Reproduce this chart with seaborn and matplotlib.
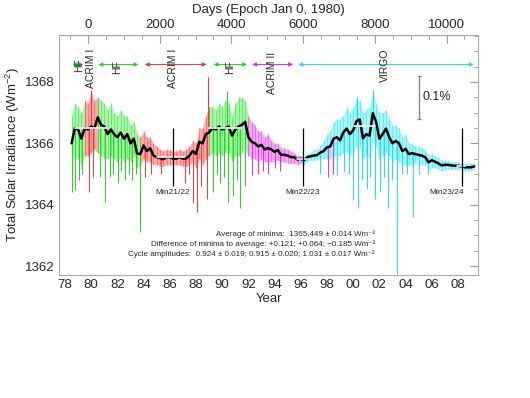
import numpy as np
import pandas as pd
import matplotlib
matplotlib.use('Agg')
import matplotlib.pyplot as plt
from matplotlib.ticker import MultipleLocator
import seaborn as sns

# quarter-year samples
years = np.arange(1978.5, 2009.26, 0.25)

smooth = [1366.0, 1366.5,
          1366.45, 1366.15, 1366.5, 1366.45,
          1366.55, 1366.5, 1366.85, 1366.6,
          1366.55, 1366.3, 1366.45, 1366.3,
          1366.2, 1366.35, 1366.15, 1366.3,
          1366.0, 1366.15, 1365.67, 1365.65,
          1365.93, 1365.75, 1365.84, 1365.6,
          1365.55, 1365.52, 1365.48, 1365.55,
          1365.55, 1365.5, 1365.5, 1365.55,
          1365.5, 1365.5, 1365.6, 1365.75,
          1365.65, 1366.05, 1366.0, 1366.3,
          1366.35, 1366.5, 1366.45, 1366.55,
          1366.45, 1366.5, 1366.55, 1366.25,
          1366.45, 1366.55, 1366.6, 1366.7,
          1366.2, 1366.05, 1366.0, 1365.9,
          1365.95, 1365.8, 1365.85, 1365.8,
          1365.72, 1365.78, 1365.62, 1365.63,
          1365.6, 1365.55, 1365.55, 1365.47,
          1365.5, 1365.45, 1365.55, 1365.58,
          1365.6, 1365.62, 1365.7, 1365.75,
          1365.87, 1365.9, 1366.15, 1366.2,
          1366.1, 1366.36, 1366.48, 1366.3,
          1366.42, 1366.72, 1366.78, 1366.16,
          1366.3, 1366.25, 1366.98, 1366.7,
          1366.15, 1366.3, 1366.48, 1366.2,
          1366.0, 1366.08, 1366.0, 1365.75,
          1365.82, 1365.65, 1365.68, 1365.65,
          1365.62, 1365.6, 1365.55, 1365.38,
          1365.45, 1365.4, 1365.35, 1365.28,
          1365.3, 1365.3, 1365.28, 1365.27,
          1365.27, 1365.25, 1365.22, 1365.22,
          1365.22, 1365.25]

band_hi = [1366.9, 1367.3,
           1367.2, 1367.0, 1367.4, 1367.3,
           1367.7, 1367.4, 1367.5, 1367.4,
           1367.3, 1367.1, 1367.3, 1367.0,
           1366.9, 1367.1, 1366.9, 1366.9,
           1366.6, 1366.7, 1366.3, 1366.2,
           1366.4, 1366.2, 1366.2, 1366.0,
           1365.9, 1365.8, 1365.75, 1365.8,
           1365.8, 1365.75, 1365.75, 1365.8,
           1365.75, 1365.8, 1365.9, 1366.1,
           1366.0, 1366.5, 1366.5, 1366.9,
           1367.2, 1367.2, 1367.1, 1367.3,
           1367.2, 1367.4, 1367.3, 1366.9,
           1367.3, 1367.5, 1367.5, 1367.4,
           1366.9, 1366.7, 1366.6, 1366.4,
           1366.4, 1366.2, 1366.3, 1366.1,
           1366.0, 1366.0, 1365.85, 1365.85,
           1365.8, 1365.75, 1365.7, 1365.6,
           1365.6, 1365.55, 1365.65, 1365.7,
           1365.8, 1365.8, 1365.95, 1366.1,
           1366.3, 1366.4, 1366.7, 1366.8,
           1366.8, 1366.9, 1367.2, 1367.0,
           1367.2, 1367.4, 1367.4, 1367.0,
           1367.1, 1367.2, 1367.7, 1367.3,
           1367.0, 1367.0, 1367.1, 1366.8,
           1366.6, 1366.6, 1366.5, 1366.2,
           1366.3, 1366.0, 1366.0, 1365.9,
           1365.9, 1365.85, 1365.8, 1365.6,
           1365.65, 1365.6, 1365.55, 1365.45,
           1365.45, 1365.45, 1365.4, 1365.4,
           1365.4, 1365.35, 1365.35, 1365.35,
           1365.35, 1365.35]

band_lo = [1365.3, 1365.6,
           1365.5, 1365.3, 1365.6, 1365.6,
           1365.7, 1365.8, 1365.7, 1365.6,
           1365.5, 1365.5, 1365.6, 1365.5,
           1365.4, 1365.6, 1365.4, 1365.5,
           1365.4, 1365.6, 1365.2, 1365.3,
           1365.5, 1365.4, 1365.4, 1365.3,
           1365.3, 1365.25, 1365.25, 1365.3,
           1365.3, 1365.3, 1365.3, 1365.3,
           1365.25, 1365.25, 1365.3, 1365.4,
           1365.2, 1365.5, 1365.3, 1365.5,
           1365.6, 1365.7, 1365.6, 1365.7,
           1365.6, 1365.7, 1365.7, 1365.4,
           1365.6, 1365.6, 1365.7, 1365.8,
           1365.6, 1365.5, 1365.5, 1365.4,
           1365.5, 1365.4, 1365.4, 1365.4,
           1365.4, 1365.45, 1365.4, 1365.4,
           1365.35, 1365.35, 1365.35, 1365.3,
           1365.35, 1365.3, 1365.4, 1365.45,
           1365.45, 1365.45, 1365.5, 1365.5,
           1365.5, 1365.5, 1365.6, 1365.6,
           1365.6, 1365.7, 1365.7, 1365.6,
           1365.7, 1365.9, 1365.9, 1365.5,
           1365.6, 1365.5, 1366.2, 1365.9,
           1365.5, 1365.6, 1365.7, 1365.6,
           1365.4, 1365.5, 1365.4, 1365.3,
           1365.3, 1365.3, 1365.3, 1365.35,
           1365.3, 1365.3, 1365.3, 1365.15,
           1365.2, 1365.2, 1365.15, 1365.1,
           1365.15, 1365.15, 1365.15, 1365.15,
           1365.15, 1365.15, 1365.1, 1365.1,
           1365.1, 1365.15]

# which instrument the composite uses (data colours)
src_names = ['HF', 'ACRIM I', 'HF', 'ACRIM I', 'HF', 'ACRIM II', 'VIRGO']
src_start = [1978.5, 1979.5, 1980.5, 1983.75, 1989.0, 1992.0, 1996.0]
src_end = [1979.5, 1980.5, 1983.75, 1989.0, 1992.0, 1996.0, 2009.25]

# short dips / peaks in the daily data
spike_src = ['HF'] * 15 + ['ACRIM I'] * 11 + ['HF'] * 9 + ['ACRIM II'] * 8 + ['VIRGO'] * 20
spike_year = [1978.53, 1978.76, 1979.07, 1979.3, 1980.7, 1981.05, 1981.4, 1981.7, 1982.05, 1982.3,
              1982.58, 1982.85, 1983.11, 1983.4, 1983.73,
              1979.83, 1980.1, 1984.11, 1984.6, 1985.3, 1987.16, 1987.5, 1987.77, 1988.08, 1988.4, 1988.84,
              1989.3, 1989.6, 1989.83, 1990.1, 1990.44, 1990.82, 1991.1, 1991.36, 1991.74,
              1992.27, 1992.73, 1993.1, 1993.5, 1994.0, 1994.41, 1998.08, 1998.46,
              1997.47, 1998.76, 1999.3, 1999.7, 1999.98, 2000.37, 2000.7, 2001.05, 2001.3, 2001.66,
              2002.05, 2002.35, 2002.66, 2003.0, 2003.34, 2003.7, 2004.1, 2004.56, 2005.0, 2005.7]
spike_low = [1364.4, 1364.47, 1364.8, 1365.0, 1364.9, 1364.1, 1364.9, 1365.0, 1364.7, 1365.1,
             1364.8, 1365.0, 1364.8, 1365.0, 1363.1,
             1364.4, 1364.9, 1364.9, 1365.0, 1365.0, 1364.7, 1365.0, 1364.05, 1363.75, 1364.6, 1364.2,
             1364.4, 1365.0, 1364.7, 1364.9, 1364.1, 1364.3, 1364.8, 1363.9, 1364.6,
             1364.96, 1365.0, 1365.1, 1365.0, 1365.2, 1365.1, 1364.9, 1365.0,
             1365.0, 1364.96, 1365.1, 1365.0, 1364.15, 1363.9, 1364.8, 1364.5, 1364.9, 1364.2,
             1364.4, 1364.9, 1363.9, 1364.8, 1361.75, 1365.0, 1365.0, 1363.6, 1365.0, 1365.0]
peak_src = ['ACRIM I', 'ACRIM I', 'HF', 'VIRGO', 'VIRGO']
peak_year = [1980.0, 1988.92, 1990.4, 2000.3, 2001.5]
peak_high = [1367.75, 1368.15, 1367.7, 1367.5, 1367.75]

# cycle max / min levels (white bars) and minima markers
lvl_start = [1978.75, 1988.9, 2000.1, 1985.0, 1995.7, 2007.95]
lvl_end = [1981.2, 1991.4, 2001.7, 1987.1, 1996.5, 2008.5]
lvl_value = [1366.49, 1366.49, 1366.58, 1365.57, 1365.5, 1365.25]
min_names = ['Min21/22', 'Min22/23', 'Min23/24']
min_year = [1986.24, 1996.17, 2008.31]

# instrument periods shown with arrows at top
arrow_names = ['HF', 'ACRIM I', 'HF', 'ACRIM I', 'HF', 'ACRIM II', 'VIRGO']
arrow_start = [1978.6, None, 1980.55, 1984.1, 1989.35, 1992.3, 1995.8]
arrow_end = [1979.4, None, 1983.6, 1988.8, 1991.9, 1995.4, 2009.2]
label_year = [1979.06, 1980.02, 1981.99, 1986.27, 1990.6, 1993.8, 2002.4]
label_level = [1368.55, 1368.45, 1368.5, 1368.45, 1368.5, 1368.3, 1368.55]

notes = ['Average of minima:  1365.449 \u00b1 0.014 Wm\u207b\u00b2',
         'Difference of minima to average: +0.121; +0.064; \u22120.185 Wm\u207b\u00b2',
         'Cycle amplitudes:  0.924 \u00b1 0.019; 0.915 \u00b1 0.020; 1.031 \u00b1 0.017 Wm\u207b\u00b2']

band_color = {'HF': '#8af28a', 'ACRIM I': '#ff8c8c', 'ACRIM II': '#f48af4', 'VIRGO': '#8af2f6'}
line_color = {'HF': '#1fd61f', 'ACRIM I': '#ff3030', 'ACRIM II': '#ee22ee', 'VIRGO': '#19e0ea'}

sns.set_style('white')
plt.rcParams['font.family'] = ['Liberation Sans', 'DejaVu Sans']
plt.rcParams['mathtext.fontset'] = 'custom'
plt.rcParams['mathtext.rm'] = 'Liberation Sans'
plt.rcParams['mathtext.it'] = 'Liberation Sans'

fig = plt.figure(figsize=(5.3, 3.98), dpi=100)
ax = fig.add_axes([59 / 530, 1 - 275 / 398, 419 / 530, 240 / 398])

df = pd.DataFrame({'year': years, 'smooth': smooth, 'hi': band_hi, 'lo': band_lo})

for name, s, e in zip(src_names, src_start, src_end):
    seg = df[(df.year >= s - 1e-6) & (df.year <= e + 1e-6)]
    ax.fill_between(seg.year, seg.lo, seg.hi, color=band_color[name], lw=0, alpha=0.75)
    ax.vlines(seg.year, seg.lo, seg.hi, color=line_color[name], lw=0.5, alpha=0.6)

for name, x, v in zip(spike_src, spike_year, spike_low):
    ax.vlines(x, v, np.interp(x, years, smooth), color=line_color[name], lw=0.7)
for name, x, v in zip(peak_src, peak_year, peak_high):
    ax.vlines(x, np.interp(x, years, smooth), v, color=line_color[name], lw=0.8)

sns.lineplot(data=df, x='year', y='smooth', color='black', lw=1.8, ax=ax, legend=False)

for s, e, v in zip(lvl_start, lvl_end, lvl_value):
    ax.plot([s, e], [v, v], color='white', lw=1.2, zorder=5)

for name, x in zip(min_names, min_year):
    ax.vlines(x, 1364.6, 1366.5, color='black', lw=0.9, zorder=6)
    ha = 'right' if name == 'Min23/24' else 'center'
    ax.text(x + (0.15 if ha == 'right' else 0), 1364.4, name, ha=ha, va='center', fontsize=6)

for name, s, e in zip(arrow_names, arrow_start, arrow_end):
    if s is None:
        continue
    c = line_color[name]
    ax.annotate('', xy=(e, 1368.57), xytext=(s, 1368.57),
                arrowprops=dict(arrowstyle='<|-|>', color=c, lw=0.7, mutation_scale=6,
                                shrinkA=0, shrinkB=0))
for name, x, v in zip(arrow_names, label_year, label_level):
    ax.text(x, v, name, rotation=90, ha='center', va='center', fontsize=7.5)

# 0.1 % scale bar
ax.vlines(2005.0, 1366.8, 1368.2, color='gray', lw=0.9)
ax.hlines([1366.8, 1368.2], 2004.85, 2005.15, color='gray', lw=0.9)
ax.text(2005.3, 1367.5, '0.1%', fontsize=9, va='center')

for i, t in enumerate(notes):
    ax.text(2001.66, 1363.05 - i * 0.33, t, ha='right', va='center', fontsize=5.8)

ax.set_xlim(1977.54, 2009.53)
ax.set_ylim(1361.71, 1369.53)
ax.xaxis.set_minor_locator(MultipleLocator(1))
ax.yaxis.set_minor_locator(MultipleLocator(0.5))
ax.set_xticks(np.arange(1978, 2009, 2))
ax.set_xticklabels(['%02d' % (y % 100) for y in range(1978, 2009, 2)])
ax.set_yticks([1362, 1364, 1366, 1368])
ax.tick_params(which='both', direction='in', color='#999999', top=False, right=True,
               labelsize=9.5, pad=3)
ax.tick_params(which='major', length=6)
ax.tick_params(which='minor', length=3)
for sp in ax.spines.values():
    sp.set_color('#aaaaaa')
    sp.set_linewidth(0.8)
ax.set_xlabel('Year', fontsize=9.5, labelpad=1)
ax.set_ylabel('Total Solar Irradiance (Wm$^{-2}$)', fontsize=9.5, labelpad=2)

epoch = 1979.75
top = ax.secondary_xaxis('top', functions=(lambda y: (y - epoch) * 365.25,
                                           lambda d: d / 365.25 + epoch))
top.set_xticks([0, 2000, 4000, 6000, 8000, 10000])
top.xaxis.set_minor_locator(MultipleLocator(500))
top.tick_params(which='both', direction='in', color='#999999', labelsize=9.5, pad=3)
top.tick_params(which='major', length=6)
top.tick_params(which='minor', length=3)
top.spines['top'].set_color('#aaaaaa')
top.set_xlabel('Days (Epoch Jan 0, 1980)', fontsize=9.5, labelpad=4)

fig.savefig('out.png', dpi=100)
